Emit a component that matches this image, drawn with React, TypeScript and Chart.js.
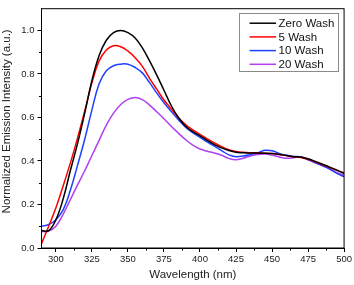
import React, { useEffect, useRef } from "react";
import { Chart, registerables } from "chart.js";

Chart.register(...registerables);

const WAVELENGTHS = [
  290, 295, 300, 305, 310, 315, 320, 325, 330, 335, 340, 345, 350, 355, 360, 365, 370, 375, 380, 385, 390, 395,
  400, 405, 410, 415, 420, 425, 430, 435, 440, 445, 450, 455, 460, 465, 470, 475, 480, 485, 490, 495, 500,
];

const ZERO_WASH = [
  0.08, 0.08, 0.13, 0.225, 0.355, 0.48, 0.62, 0.77, 0.885, 0.955, 0.99, 1.0, 0.99, 0.965, 0.92, 0.86, 0.795, 0.725,
  0.655, 0.6, 0.56, 0.535, 0.515, 0.495, 0.475, 0.46, 0.448, 0.44, 0.438, 0.437, 0.437, 0.436, 0.434, 0.43, 0.425,
  0.42, 0.418, 0.41, 0.398, 0.385, 0.372, 0.358, 0.343,
];

const WASH_5 = [
  0.02, 0.1, 0.185, 0.285, 0.39, 0.505, 0.63, 0.76, 0.86, 0.91, 0.93, 0.925, 0.905, 0.875, 0.835, 0.78, 0.73, 0.68,
  0.64, 0.6, 0.567, 0.543, 0.522, 0.502, 0.483, 0.466, 0.452, 0.444, 0.44, 0.438, 0.437, 0.436, 0.434, 0.43, 0.425,
  0.42, 0.416, 0.408, 0.396, 0.383, 0.37, 0.357, 0.345,
];

const WASH_10 = [
  0.1, 0.108, 0.13, 0.175, 0.265, 0.38, 0.5, 0.635, 0.755, 0.815, 0.838, 0.845, 0.845, 0.83, 0.805, 0.76, 0.712,
  0.668, 0.628, 0.59, 0.555, 0.53, 0.508, 0.488, 0.468, 0.448, 0.428, 0.42, 0.423, 0.43, 0.438, 0.449, 0.447, 0.435,
  0.426, 0.421, 0.418, 0.406, 0.392, 0.379, 0.363, 0.343, 0.328,
];

const WASH_20 = [
  0.075, 0.078, 0.1, 0.155, 0.222, 0.29, 0.355, 0.425, 0.495, 0.565, 0.62, 0.66, 0.683, 0.692, 0.682, 0.657, 0.626,
  0.594, 0.56, 0.528, 0.498, 0.473, 0.455, 0.445, 0.437, 0.426, 0.412, 0.406, 0.413, 0.423, 0.43, 0.432, 0.427, 0.418,
  0.413, 0.415, 0.418, 0.405, 0.392, 0.378, 0.364, 0.346, 0.335,
];

const SERIES_LABELS = ["Zero Wash", "5 Wash", "10 Wash", "20 Wash"];
const SERIES_COLORS = ["#000000", "#ff0000", "#2040ff", "#b040f0"];

const X_TICKS = [300, 325, 350, 375, 400, 425, 450, 475, 500];
const X_MINOR = [312.5, 337.5, 362.5, 387.5, 412.5, 437.5, 462.5, 487.5];
const Y_TICKS = [0, 0.2, 0.4, 0.6, 0.8, 1.0];
const Y_MINOR = [0.1, 0.3, 0.5, 0.7, 0.9];

const X_TITLE = "Wavelength (nm)";
const Y_TITLE = "Normalized Emission Intensity (a.u.)";

const FONT = '"Liberation Sans", Arial, sans-serif';

const framePlugin = {
  id: "frameAndExtras",
  afterDraw(chart: any) {
    const { ctx, chartArea } = chart;
    const { left, right, top, bottom } = chartArea;
    const xs = chart.scales.x;
    const ys = chart.scales.y;
    ctx.save();
    ctx.strokeStyle = "#000";
    ctx.lineWidth = 1;
    ctx.strokeRect(left, top, right - left, bottom - top);
    ctx.beginPath();
    X_MINOR.forEach((v) => {
      const px = Math.round(xs.getPixelForValue(v)) + 0.5;
      ctx.moveTo(px, bottom);
      ctx.lineTo(px, bottom + 2.5);
    });
    Y_MINOR.forEach((v) => {
      const py = Math.round(ys.getPixelForValue(v)) + 0.5;
      ctx.moveTo(left, py);
      ctx.lineTo(left - 2.5, py);
    });
    ctx.stroke();

    ctx.fillStyle = "#222";
    ctx.font = `11.5px ${FONT}`;
    ctx.textAlign = "center";
    ctx.textBaseline = "middle";
    ctx.translate(7, (top + bottom) / 2 - 7);
    ctx.rotate(-Math.PI / 2);
    ctx.fillText(Y_TITLE, 0, 0);
    ctx.restore();

    ctx.save();
    const boxRight = right - 6;
    const boxLeft = boxRight - 99;
    const boxTop = top + 4;
    const boxH = 58;
    ctx.strokeStyle = "#8a8a8a";
    ctx.lineWidth = 1;
    ctx.strokeRect(Math.round(boxLeft) + 0.5, Math.round(boxTop) + 0.5, 99, boxH);
    ctx.font = `11.5px ${FONT}`;
    ctx.textAlign = "left";
    ctx.textBaseline = "middle";
    SERIES_LABELS.forEach((label, i) => {
      const y = boxTop + 10.5 + i * 13.7;
      ctx.strokeStyle = SERIES_COLORS[i];
      ctx.lineWidth = 1.5;
      ctx.beginPath();
      ctx.moveTo(boxLeft + 10.5, y);
      ctx.lineTo(boxLeft + 37, y);
      ctx.stroke();
      ctx.fillStyle = "#111";
      ctx.fillText(label, boxLeft + 39.5, y + 0.5);
    });
    ctx.restore();
  },
};

export default function App() {
  const canvasRef = useRef<HTMLCanvasElement | null>(null);

  useEffect(() => {
    if (!canvasRef.current) return;
    const seriesValues = [ZERO_WASH, WASH_5, WASH_10, WASH_20];
    const chart = new Chart(canvasRef.current, {
      type: "line",
      data: {
        datasets: seriesValues.map((vals, i) => ({
          label: SERIES_LABELS[i],
          data: WAVELENGTHS.map((x, j) => ({ x, y: vals[j] })),
          borderColor: SERIES_COLORS[i],
          backgroundColor: SERIES_COLORS[i],
          borderWidth: 1.5,
          pointRadius: 0,
          fill: false,
          tension: 0.4,
        })),
      },
      options: {
        animation: false,
        responsive: false,
        maintainAspectRatio: false,
        layout: { padding: { top: 1, right: 9, left: 0, bottom: 0 } },
        plugins: {
          legend: { display: false },
          tooltip: { enabled: false },
        },
        scales: {
          x: {
            type: "linear",
            min: 290,
            max: 500,
            afterBuildTicks: (scale: any) => {
              scale.ticks = X_TICKS.map((value) => ({ value }));
            },
            afterFit: (scale: any) => {
              scale.height = 37;
            },
            grid: {
              drawOnChartArea: false,
              drawTicks: true,
              tickLength: 4,
              color: "#000",
            },
            border: { display: true, color: "#000", width: 1 },
            ticks: {
              padding: 2,
              color: "#222",
              font: { family: FONT, size: 9.5 },
              maxRotation: 0,
              autoSkip: false,
              callback: (v: any) => String(v),
            },
            title: {
              display: true,
              text: X_TITLE,
              color: "#222",
              font: { family: FONT, size: 11.5 },
              padding: { top: 0, bottom: 3 },
            },
          },
          y: {
            type: "linear",
            min: 0,
            max: 1.1,
            afterBuildTicks: (scale: any) => {
              scale.ticks = Y_TICKS.map((value) => ({ value }));
            },
            afterFit: (scale: any) => {
              scale.width = 41.5;
            },
            grid: {
              drawOnChartArea: false,
              drawTicks: true,
              tickLength: 4,
              color: "#000",
            },
            border: { display: true, color: "#000", width: 1 },
            ticks: {
              padding: 3,
              color: "#222",
              font: { family: FONT, size: 9.5 },
              autoSkip: false,
              callback: (v: any) => Number(v).toFixed(1),
            },
          },
        },
      },
      plugins: [framePlugin],
    });
    return () => chart.destroy();
  }, []);

  return (
    <div style={{ position: "fixed", left: 0, top: 0, width: 354, height: 285, background: "#fff" }}>
      <canvas ref={canvasRef} width={354} height={285} style={{ display: "block", width: 354, height: 285 }} />
    </div>
  );
}
